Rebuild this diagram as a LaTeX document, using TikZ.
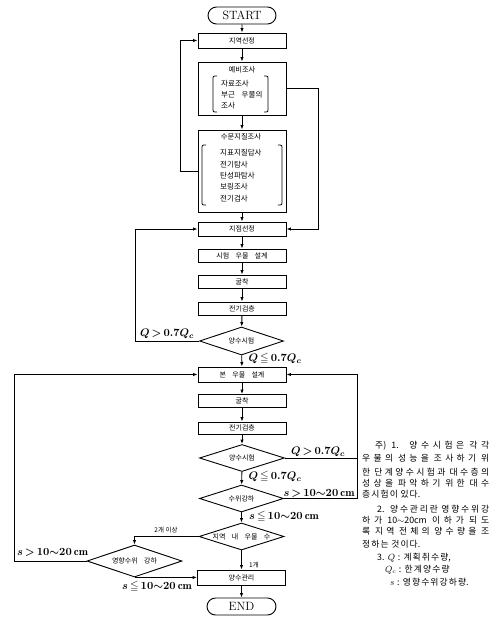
\documentclass[tikz,border=0pt]{standalone}
\usepackage{amssymb}
\usepackage{fontspec}
\newfontfamily\kr{Noto Sans CJK KR}
\usetikzlibrary{shapes.geometric,shapes.misc,arrows.meta}
\makeatletter
\newXeTeXintercharclass\hangulclass
\count@="AC00
\loop
  \XeTeXcharclass\count@=\hangulclass
  \advance\count@ 1
\ifnum\count@<"D7A4 \repeat
\makeatother
\XeTeXinterchartoks\hangulclass\hangulclass={\hskip 1.1pt plus 1pt\relax}
\newcommand{\notefont}{\kr\fontsize{8.8}{10}\selectfont\XeTeXinterchartokenstate=1 \spaceskip=0.3em plus 1pt\relax}
\tikzset{
 box/.style={draw, line width=0.9pt, minimum width=88pt, minimum height=14pt, inner sep=0pt, font=\kr\fontsize{7}{8}\selectfont},
 bigbox/.style={draw, line width=0.9pt, minimum width=88pt, inner sep=0pt},
 term/.style={draw, rounded rectangle, line width=0.9pt, minimum width=68pt, minimum height=17pt, inner sep=0pt, font=\fontsize{12}{12}\selectfont},
 dec/.style={draw, diamond, line width=0.9pt, inner sep=0pt, minimum width=84pt, minimum height=28pt, font=\kr\fontsize{7}{8}\selectfont},
 arr/.style={line width=0.9pt, -{Latex[length=4.5pt,width=3.4pt]}},
 ln/.style={line width=0.9pt},
 cond/.style={font=\fontsize{11}{12}\selectfont\boldmath, inner sep=0pt},
 lbl/.style={font=\kr\fontsize{6.5}{7}\selectfont, inner sep=0pt},
 ttl/.style={font=\kr\fontsize{7.3}{8}\selectfont, inner sep=0pt},
 item/.style={font=\kr\fontsize{7.5}{8}\selectfont, inner sep=0pt, anchor=west},
 note/.style={font=\notefont, inner sep=0pt, anchor=west},
 brk/.style={line width=0.8pt}
}
\newcommand{\gap}{\hspace{0.9em}}
\newcommand{\zb}[1]{\makebox[0pt][c]{#1}}
\begin{document}
\begin{tikzpicture}[x=1pt,y=-1pt]
\fill[white] (0,0) rectangle (502,624);
\useasboundingbox (0,0) rectangle (502,624);
% main column
\node[term] (start) at (242,15.5) {START};
\node[box, minimum height=15pt] (n1) at (242,40.5) {지역선정};
\node[bigbox, minimum height=53pt] (pre) at (242,88.5) {};
\node[ttl] (preT) at (242,70) {예비조사};
\node[item] (p1) at (221,84) {자료조사};
\node[item] (p2) at (221,95) {부근\gap 우물의};
\node[item] (p3) at (221,106) {조사};
\draw[brk] (217,76) .. controls (213,76) .. (213,80) -- (213,108) .. controls (213,112) .. (217,112);
\draw[brk] (264,76) .. controls (268,76) .. (268,80) -- (268,108) .. controls (268,112) .. (264,112);
\node[bigbox, minimum height=82pt] (hyd) at (242,171) {};
\node[ttl] (hydT) at (241,137) {수문지질조사};
\node[item] (h1) at (220,153) {지표지질답사};
\node[item] (h2) at (220,164.3) {전기탐사};
\node[item] (h3) at (220,175.6) {탄성파탐사};
\node[item] (h4) at (220,186.9) {보링조사};
\node[item] (h5) at (220,198.2) {전기검사};
\draw[brk] (206,145) .. controls (202,145) .. (202,149) -- (202,201) .. controls (202,205) .. (206,205);
\draw[brk] (278,145) .. controls (282,145) .. (282,149) -- (282,201) .. controls (282,205) .. (278,205);
\node[box] (site) at (242,229) {지점선정};
\node[box, minimum height=13pt] (test) at (242,255.5) {시험\gap 우물\gap 설계};
\node[box, minimum height=13pt] (dig1) at (242,281.5) {굴착};
\node[box, minimum height=13pt] (log1) at (242,308.5) {전기검층};
\node[dec] (d1) at (241.5,341) {\zb{양수시험}};
\node[box, minimum height=15pt] (main) at (242,374.5) {본\gap 우물\gap 설계};
\node[box, minimum height=13pt] (dig2) at (242,401) {굴착};
\node[box, minimum height=12pt] (log2) at (242,428) {전기검층};
\node[dec, minimum width=85pt, minimum height=27pt] (d2) at (242,458) {\zb{양수시험}};
\node[dec, minimum height=27pt] (d3) at (241.5,498.5) {\zb{수위강하}};
\node[dec, minimum width=85pt, minimum height=27pt] (d4) at (241.5,536.5) {\zb{지역\gap 내\gap 우물\gap 수}};
\node[dec, minimum width=95pt, minimum height=32pt] (d5) at (134.5,561) {\zb{영향수위\gap 강하}};
\node[box, minimum height=15pt] (mg) at (241.5,577.5) {양수관리};
\node[term, minimum width=69pt] (end) at (241.5,606.5) {END};
% loop coordinates
\coordinate (L1) at (180,0);
\coordinate (R1) at (318,0);
\coordinate (L2) at (135,0);
\coordinate (R2) at (357,0);
\coordinate (L3) at (14,0);
% straight arrows
\draw[arr] (start) -- (n1);
\draw[arr] (n1) -- (pre);
\draw[arr] (pre) -- (hyd);
\draw[arr] (hyd) -- (site);
\draw[arr] (site) -- (test);
\draw[arr] (test) -- (dig1);
\draw[arr] (dig1) -- (log1);
\draw[arr] (log1) -- (d1);
\draw[arr] (d1) -- (main);
\draw[arr] (main) -- (dig2);
\draw[arr] (dig2) -- (log2);
\draw[arr] (log2) -- (d2);
\draw[arr] (d2) -- (d3);
\draw[arr] (d3) -- (d4);
\draw[arr] (d4) -- (mg);
\draw[arr] (mg) -- (end);
% loops
\draw[arr] (hyd.west) -- (hyd.west -| L1) |- (n1.west);
\draw[arr] (pre.east) -- (pre.east -| R1) |- (site.east);
\draw[arr] (d1.west) -- (d1.west -| L2) |- (site.west);
\draw[arr] (d3.east) -- (d3.east -| R2) |- (main.east);
\draw[ln] (d2.east) -- (d2.east -| R2);
\draw[arr] (d5.west) -- (d5.west -| L3) |- (main.west);
\draw[arr] (d4.west) -| (d5.north);
\draw[arr] (d5.south) -- (mg.west |- d5.south);
% condition labels
\node[cond] (c1) at (167,334) {$Q\,{>}\,0.7Q_c$};
\node[cond] (c2) at (275,359) {$Q\,{\leqq}\,0.7Q_c$};
\node[cond] (c3) at (318,452) {$Q\,{>}\,0.7Q_c$};
\node[cond] (c4) at (275,477) {$Q\,{\leqq}\,0.7Q_c$};
\node[cond] (c5) at (319,493) {$s\,{>}\,10{\sim}20\,\mathrm{cm}$};
\node[cond] (c6) at (284,517) {$s\,{\leqq}\,10{\sim}20\,\mathrm{cm}$};
\node[cond] (c7) at (52.5,552) {$s\,{>}\,10{\sim}20\,\mathrm{cm}$};
\node[cond] (c8) at (157,587) {$s\,{\leqq}\,10{\sim}20\,\mathrm{cm}$};
\node[lbl] (two) at (166,530) {2개 이상};
\node[lbl] (one) at (254,565) {1개};
% notes
\node[note] (t1) at (375,446) {\makebox[114pt][s]{주) 1. 양수시험은 각각}};
\node[note] (t2) at (362,458.3) {\makebox[127pt][s]{우물의 성능을 조사하기 위}};
\node[note] (t3) at (362,471.7) {\makebox[127pt][s]{한 단계양수시험과 대수층의}};
\node[note] (t4) at (362,483.3) {\makebox[127pt][s]{성상을 파악하기 위한 대수}};
\node[note] (t5) at (362,494) {층시험이 있다.};
\node[note] (t6) at (377,509.3) {\makebox[112pt][s]{2. 양수관리란 영향수위강}};
\node[note] (t7) at (362,520) {\makebox[127pt][s]{하가 10$\sim$20cm 이하가 되도}};
\node[note] (t8) at (362,531.7) {\makebox[127pt][s]{록 지역 전체의 양수량을 조}};
\node[note] (t9) at (362,544.3) {정하는 것이다.};
\node[note] (t10) at (377,557.7) {3. $Q$ : 계획취수량,};
\node[note] (t11) at (385,569.3) {$Q_c$ : 한계양수량};
\node[note] (t12) at (390,581.7) {$s$ : 영향수위강하량.};
\end{tikzpicture}
\end{document}
